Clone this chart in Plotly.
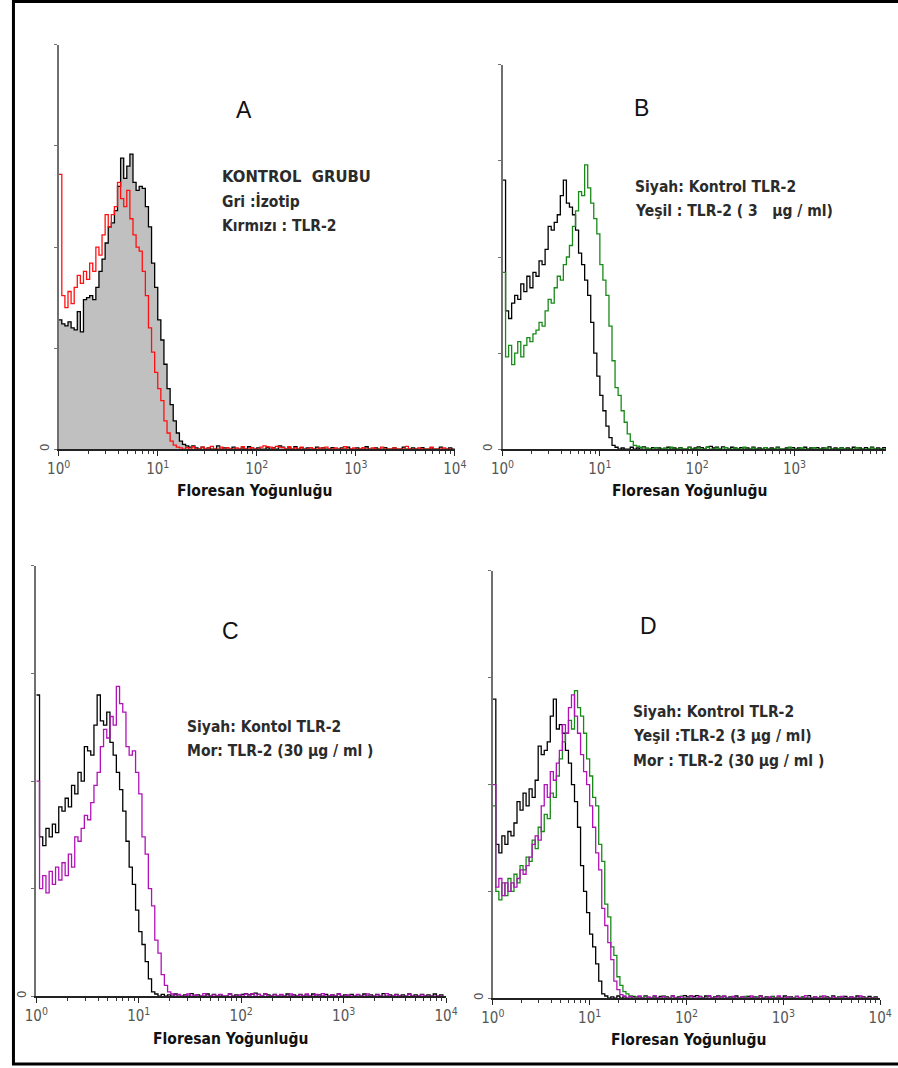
import plotly.graph_objects as go

W, H = 898, 1068
CH_PER_DECADE = 32  # histogram channels per decade of fluorescence

# ---------------- data (counts per channel) ----------------
iso_a = [32, 31, 30.5, 31.5, 30, 29.5, 34, 29, 37, 37.5, 38, 37, 40, 44, 47, 51, 55, 56, 59, 65,
         72, 67, 70, 73, 66, 64, 65, 64.5, 60, 55, 46, 40, 32, 27, 21, 15, 11, 7, 4, 2,
         1.2, 0.8, 0.5, 0.8, 0.3, 0, 0.5, 0, 0.3, 0, 0, 0.8, 0, 0.3, 0, 0, 0.5, 0, 0, 0.3,
         0, 0.6, 0, 0, 0.3, 0, 0, 0.4, 0, 0.3, 0, 0.8, 0.5, 0, 0.3, 0, 0.6, 0, 0.4, 0,
         0.3, 0, 0, 0.5, 0, 0.3, 0, 0, 0.4, 0, 0, 0.3, 0, 0.5, 0, 0, 0.3, 0, 0, 0.6,
         0, 0, 0.3, 0, 0, 0.4, 0, 0, 0.3, 0, 0, 0.5, 0, 0, 0.3, 0, 0, 0.4, 0, 0,
         0.3, 0, 0, 0.5, 0, 0, 0.3, 0, 0, 0.2, 0, 0]
red_a = [68, 38, 35, 39, 36, 40, 43, 41, 44, 42, 46, 44, 50, 48, 53, 58, 55, 58, 60, 66,
         62, 60, 64, 57, 53, 50, 49, 44, 38, 30, 24, 19, 15, 12, 7, 4, 2, 1, 0.5, 0.3,
         0, 0.4, 0, 0.6, 0, 0, 0.5, 0, 0.3, 0.7, 0, 0, 0.5, 0, 0.4, 0, 0, 0.3, 0, 0.6,
         0, 0, 0.4, 0, 0, 0.5, 0.8, 0.6, 0.5, 0, 0.7, 0.5, 0.4, 0, 0.6, 0, 0.3, 0, 0.5, 0,
         0, 0.4, 0, 0, 0.3, 0, 0.5, 0, 0, 0.3, 0, 0, 0.6, 0, 0, 0.3, 0, 0, 0.4, 0,
         0, 0.3, 0, 0, 0.5, 0, 0, 0, 0.3, 0, 0, 0, 0.7, 0, 0, 0, 0.3, 0, 0, 0,
         0.5, 0, 0, 0, 0.3, 0, 0, 0]
ctrl_b = [70, 36, 34, 38, 40, 39, 43, 41, 45, 42, 46, 45, 49, 48, 52, 58, 57, 59, 61, 66,
          70, 64, 63, 61, 57, 51, 48, 44, 40, 33, 25, 19, 14, 10, 6, 3, 1, 0.5, 0, 0.3,
          0, 0, 0.5, 0, 0.3, 0, 0.6, 0, 0, 0.4, 0, 0.3, 0, 0, 0.5, 0, 0.3, 0, 0.4, 0,
          0, 0.5, 0, 0.3, 0.6, 0.4, 0, 0.5, 0.7, 0.3, 0.5, 0, 0.6, 0.4, 0, 0.5, 0.3, 0, 0.4, 0,
          0.3, 0, 0.5, 0, 0.3, 0, 0.4, 0, 0.3, 0, 0.5, 0, 0, 0.3, 0, 0.4, 0, 0.3, 0, 0.5,
          0, 0.3, 0, 0.4, 0, 0.3, 0, 0.6, 0, 0.3, 0, 0.4, 0, 0.3, 0, 0.5, 0, 0.3, 0, 0.4,
          0, 0.5, 0, 0.3, 0, 0.4, 0, 0.3]
green_b = [46, 24, 27, 22, 25, 28, 24, 27, 29, 28, 30, 31, 33, 32, 36, 39, 38, 42, 45, 44,
           48, 50, 53, 58, 62, 67, 66, 74, 68, 64, 60, 56, 48, 44, 40, 32, 23, 16, 14, 10,
           7, 4, 2, 1, 0.8, 0.5, 0, 0.3, 0, 0, 0.4, 0, 0, 0.3, 0, 0.5, 0, 0, 0.3, 0,
           0, 0.4, 0, 0, 0.3, 0, 0, 0.5, 0, 0, 0.3, 0, 0, 0.4, 0, 0, 0.3, 0, 0, 0.5,
           0, 0, 0.3, 0, 0, 0, 0.4, 0, 0, 0, 0.3, 0, 0, 0, 0.5, 0, 0, 0, 0.3, 0,
           0, 0, 0.4, 0, 0, 0, 0.3, 0, 0, 0, 0, 0.3, 0, 0, 0, 0, 0.4, 0, 0, 0,
           0, 0.3, 0, 0, 0, 0, 0, 0]
ctrl_c = [70, 37, 35, 39, 37, 40, 38, 44, 43, 46, 44, 49, 47, 52, 50, 58, 57, 56, 63, 70,
          64, 63, 66, 59, 56, 52, 48, 43, 36, 30, 26, 20, 15, 12, 8, 4, 1, 0.5, 0, 0.4,
          0, 0.3, 0, 0.5, 0, 0, 0.3, 0, 0.6, 0, 0.3, 0, 0, 0.5, 0, 0.4, 0, 0.3, 0, 0,
          0.5, 0, 0.3, 0, 0.4, 0.6, 0.3, 0.5, 0.7, 0.4, 0, 0.5, 0.3, 0, 0.4, 0, 0.3, 0, 0.5, 0,
          0.3, 0, 0.4, 0, 0.3, 0, 0.5, 0, 0.3, 0, 0.4, 0, 0.3, 0, 0.5, 0, 0.3, 0, 0.4, 0,
          0.3, 0, 0.5, 0, 0.3, 0, 0.4, 0, 0.6, 0, 0.3, 0, 0.4, 0, 0.3, 0, 0.5, 0, 0.3, 0,
          0.4, 0, 0.3, 0, 0.5, 0, 0.3, 0]
purple_c = [50, 25, 28, 24, 29, 26, 30, 27, 31, 28, 33, 30, 37, 36, 39, 42, 41, 45, 49, 52,
            58, 62, 60, 65, 63, 72, 68, 66, 58, 56, 57, 52, 47, 37, 33, 25, 21, 13, 10, 5,
            2.5, 1, 0.5, 0, 0.4, 0, 0, 0.5, 0, 0.3, 0, 0, 0.6, 0, 0, 0.3, 0, 0.4, 0, 0,
            0.5, 0, 0, 0.3, 0, 0.5, 0, 0.6, 0, 0.4, 0, 0.5, 0, 0, 0.3, 0, 0.4, 0, 0, 0.5,
            0, 0, 0.3, 0, 0.5, 0, 0, 0.4, 0, 0.6, 0, 0, 0.3, 0, 0.5, 0, 0, 0.3, 0, 0,
            0.4, 0, 0, 0.5, 0, 0, 0.3, 0, 0, 0.6, 0, 0, 0.3, 0, 0, 0, 0.4, 0, 0, 0,
            0.3, 0, 0, 0, 0, 0, 0, 0]
ctrl_d = [70, 36, 34, 38, 36, 39, 38, 41, 46, 44, 48, 45, 49, 47, 51, 59, 57, 58, 60, 66,
          70, 63, 64, 62, 58, 55, 50, 46, 40, 31, 25, 20, 15, 12, 8, 4, 1, 0.5, 0, 0.3,
          0, 0.5, 0, 0.3, 0, 0, 0.4, 0, 0.3, 0, 0.5, 0, 0, 0.3, 0, 0.4, 0, 0.3, 0, 0.5,
          0, 0.3, 0.4, 0.6, 0.3, 0.5, 0.4, 0.6, 0.3, 0, 0.5, 0.4, 0, 0.3, 0.5, 0, 0.4, 0, 0.3, 0,
          0.5, 0, 0.3, 0, 0.4, 0, 0.3, 0, 0.5, 0, 0.3, 0, 0.4, 0, 0.3, 0, 0.5, 0, 0.3, 0,
          0.4, 0, 0.3, 0, 0.6, 0, 0.3, 0, 0.4, 0, 0.3, 0, 0.5, 0, 0.3, 0, 0.4, 0, 0.3, 0,
          0.5, 0, 0.3, 0, 0.4, 0, 0.3, 0]
green_d = [45, 25, 23, 27, 24, 28, 25, 29, 27, 31, 30, 33, 32, 37, 35, 40, 39, 43, 42, 48,
           47, 52, 56, 60, 62, 65, 63, 72, 68, 66, 62, 56, 52, 47, 45, 36, 32, 22, 19, 12,
           10, 5, 3, 1.5, 1, 0.5, 0, 0.3, 0, 0, 0.4, 0, 0, 0.3, 0, 0, 0.5, 0, 0, 0.3,
           0, 0, 0.4, 0, 0, 0.3, 0, 0, 0.4, 0, 0, 0.3, 0, 0, 0, 0.4, 0, 0, 0, 0.3,
           0, 0, 0, 0.4, 0, 0, 0, 0.3, 0, 0, 0, 0, 0.3, 0, 0, 0, 0, 0.3, 0, 0,
           0, 0, 0.3, 0, 0, 0, 0, 0, 0.3, 0, 0, 0, 0, 0, 0.3, 0, 0, 0, 0, 0,
           0, 0, 0, 0, 0, 0, 0, 0]
purple_d = [50, 26, 28, 24, 27, 25, 27, 26, 28, 30, 29, 31, 33, 36, 38, 37, 45, 50, 47, 53,
            51, 55, 58, 64, 62, 68, 71, 66, 62, 57, 53, 50, 45, 40, 34, 30, 21, 17, 13, 9,
            4, 2, 0.8, 0.5, 0, 0.4, 0, 0, 0.5, 0, 0, 0.3, 0, 0.6, 0, 0, 0.4, 0, 0, 0.5,
            0, 0, 0.3, 0, 0, 0.5, 0, 0, 0.4, 0, 0, 0.6, 0, 0, 0.3, 0, 0.5, 0, 0, 0.4,
            0, 0, 0.3, 0, 0, 0.5, 0, 0, 0.4, 0, 0, 0.3, 0, 0, 0.5, 0, 0, 0.3, 0, 0,
            0.4, 0, 0, 0.6, 0, 0, 0.3, 0, 0, 0.5, 0, 0, 0.3, 0, 0, 0.4, 0, 0, 0.3, 0,
            0, 0.5, 0, 0, 0, 0, 0, 0]

decade_vals = [1, 10, 100, 1000, 10000]
decade_labels = ["10<sup>0</sup>", "10<sup>1</sup>", "10<sup>2</sup>", "10<sup>3</sup>", "10<sup>4</sup>"]
count_ticks = [0, 25, 50, 75, 100]
count_labels = ["0", "", "", "", ""]

x_title = "Floresan Yoğunluğu"
panel_letters = ["A", "B", "C", "D"]
panel_texts = [
    ["KONTROL  GRUBU", "Gri :İzotip", "Kırmızı : TLR-2"],
    ["Siyah: Kontrol TLR-2", "Yeşil : TLR-2 ( 3   µg / ml)"],
    ["Siyah: Kontol TLR-2", "Mor: TLR-2 (30 µg / ml )"],
    ["Siyah: Kontrol TLR-2", "Yeşil :TLR-2 (3 µg / ml)", "Mor : TLR-2 (30 µg / ml )"],
]

# ---------------- layout geometry (pixels) ----------------
boxes = [  # x0, x1 (position of 10^4), ytop, ybottom of each plot frame
    (48, 455, 45, 450),
    (504, 904, 65, 450),
    (25, 446, 567, 998),
    (494, 892, 572, 1000),
]
letter_pos = [(238.5, 110), (647, 108), (224, 632), (654, 627)]
text_pos = [(213.5, 177), (638.5, 187), (178, 728), (635.5, 713)]
text_step = 24.5
title_pos = [(249, 492), (696, 492), (224, 1041), (695, 1042)]

BLACK = "#000000"
RED = "#ff1010"
GREEN = "#178a17"
PURPLE = "#b012b8"
NARROW = "DejaVu Sans Condensed, Liberation Sans Narrow, Arial Narrow, sans-serif"


def channel_x(vals):
    return [10 ** (i / CH_PER_DECADE) for i in range(len(vals))]


fig = go.Figure()

series = [
    (1, iso_a, BLACK, True),
    (1, red_a, RED, False),
    (2, ctrl_b, BLACK, False),
    (2, green_b, GREEN, False),
    (3, ctrl_c, BLACK, False),
    (3, purple_c, PURPLE, False),
    (4, ctrl_d, BLACK, False),
    (4, green_d, GREEN, False),
    (4, purple_d, PURPLE, False),
]
for k, vals, col, filled in series:
    sfx = "" if k == 1 else str(k)
    fig.add_trace(go.Scatter(
        x=channel_x(vals), y=vals, mode="lines",
        line=dict(color=col, width=1.3, shape="hv"),
        fill="tozeroy" if filled else None,
        fillcolor="#c0c0c0" if filled else None,
        xaxis="x" + sfx, yaxis="y" + sfx, showlegend=False, hoverinfo="skip",
    ))

minor_vals = [m * d for d in (1, 10, 100, 1000) for m in range(2, 10)]

layout = dict(
    width=W, height=H, margin=dict(l=0, r=0, t=0, b=0, pad=0),
    paper_bgcolor="white", plot_bgcolor="white", showlegend=False,
)
for k, (x0, x1, yt, yb) in enumerate(boxes, start=1):
    sfx = "" if k == 1 else str(k)
    right = min(x1, W)
    top_decade = 4 * (right - x0) / (x1 - x0)  # axis cut by the picture edge if needed
    layout["xaxis" + sfx] = dict(
        domain=[x0 / W, right / W], anchor="y" + sfx, type="log", range=[0, top_decade],
        showline=True, linecolor="#222", linewidth=2, mirror=False,
        ticks="outside", ticklen=5, tickwidth=1, tickcolor="#222",
        tickvals=decade_vals, ticktext=decade_labels,
        tickfont=dict(family=NARROW, size=15, color="#555"),
        minor=dict(tickvals=minor_vals, ticks="outside", ticklen=3, tickcolor="#333", tickwidth=1),
        showgrid=False, zeroline=False, fixedrange=True,
    )
    layout["yaxis" + sfx] = dict(
        domain=[1 - yb / H, 1 - yt / H], anchor="x" + sfx, range=[0, 100],
        showline=True, linecolor="#707070", linewidth=2,
        ticks="outside", ticklen=3, tickwidth=1, tickcolor="#707070",
        tickvals=count_ticks, ticktext=count_labels, tickangle=-90,
        tickfont=dict(family=NARROW, size=13, color="#555"),
        showgrid=False, zeroline=False, fixedrange=True,
    )

anns = []
for k in range(4):
    lx, ly = letter_pos[k]
    anns.append(dict(x=lx / W, y=1 - ly / H, xref="paper", yref="paper", text=panel_letters[k],
                     showarrow=False, xanchor="center", yanchor="middle",
                     font=dict(family="Liberation Sans, Arial, sans-serif", size=23, color="#111")))
    tx, ty = text_pos[k]
    for j, line in enumerate(panel_texts[k]):
        size = 16.5 if line.isupper() else 15.5
        anns.append(dict(x=tx / W, y=1 - (ty + j * text_step) / H, xref="paper", yref="paper",
                         text="<b>" + line + "</b>", showarrow=False, xanchor="left", yanchor="middle",
                         font=dict(family=NARROW, size=size, color="#2b2b2b")))
    cx, cy = title_pos[k]
    anns.append(dict(x=cx / W, y=1 - cy / H, xref="paper", yref="paper", text="<b>" + x_title + "</b>",
                     showarrow=False, xanchor="center", yanchor="middle",
                     font=dict(family=NARROW, size=15.5, color="#111")))
layout["annotations"] = anns
layout["shapes"] = [dict(type="rect", xref="paper", yref="paper",
                         x0=1.5 / W, x1=1.02, y0=1 - 1066 / H, y1=1 - 1.5 / H,
                         line=dict(color="black", width=3), fillcolor="rgba(0,0,0,0)", layer="above")]
fig.update_layout(**layout)

fig.write_html("out.html", config={"displayModeBar": False})
